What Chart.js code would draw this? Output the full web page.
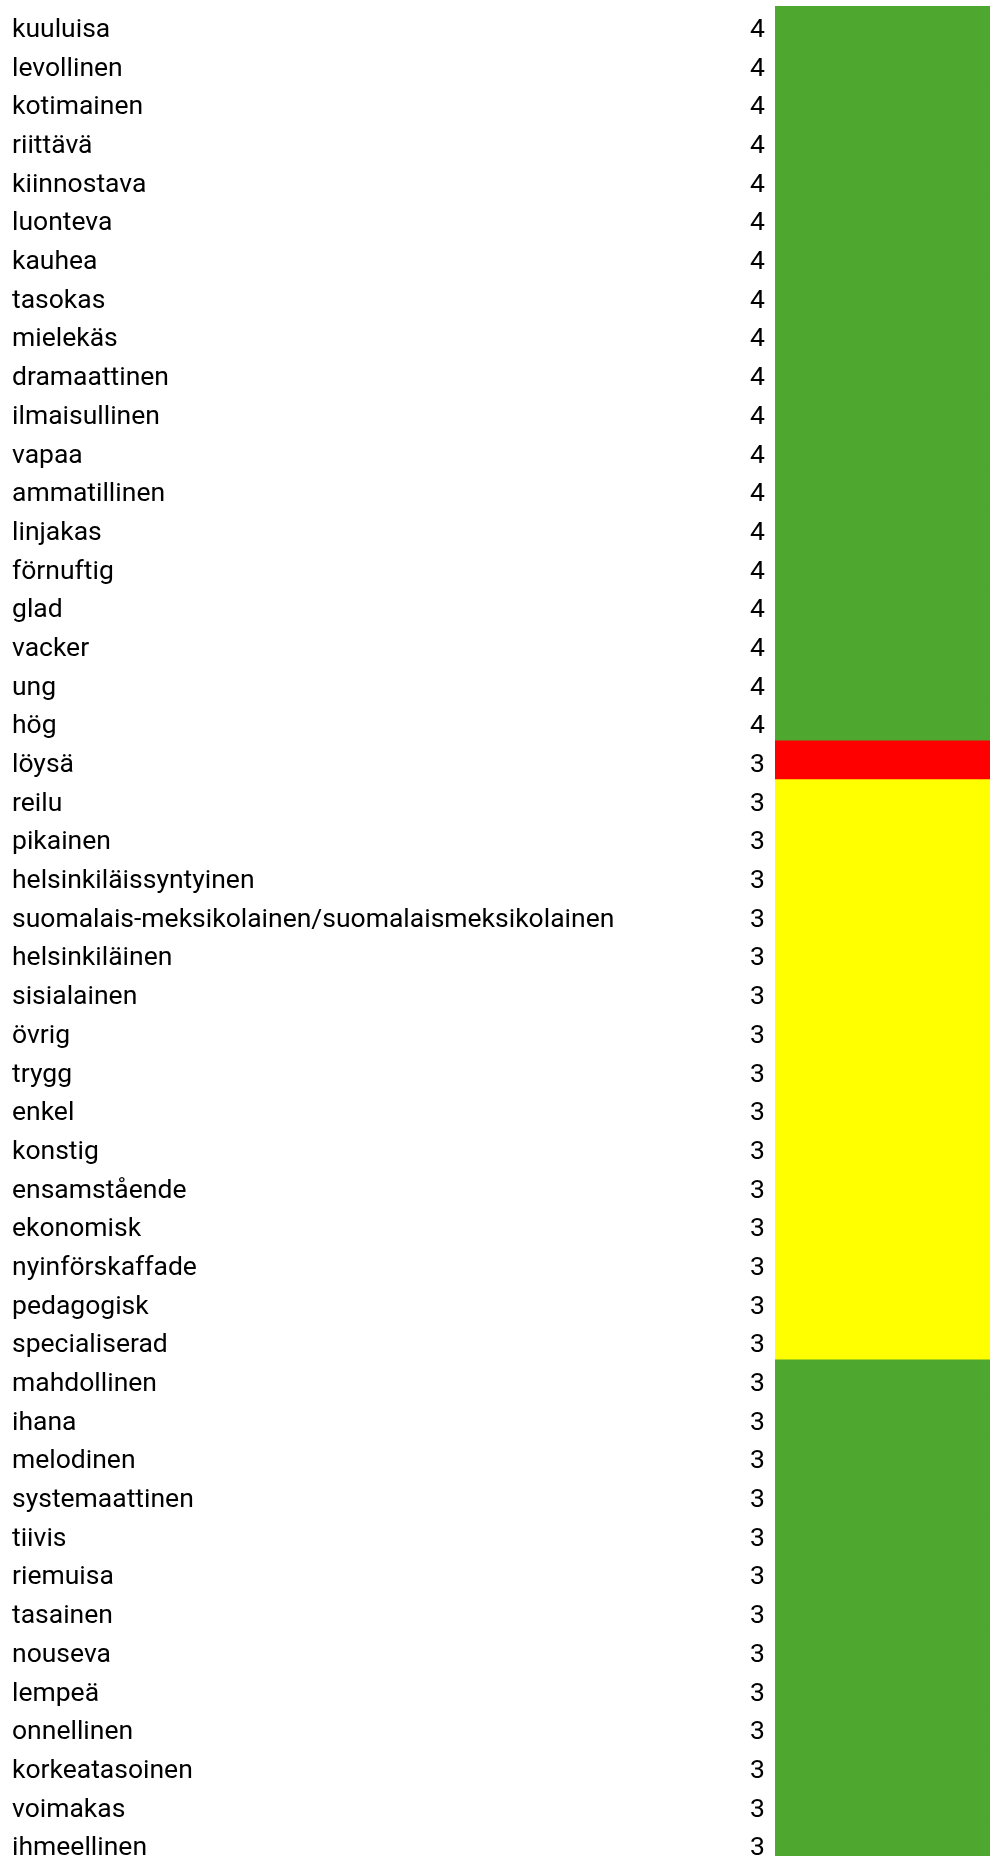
<!DOCTYPE html>
<html>
<head>
<meta charset="utf-8">
<script src="https://cdn.jsdelivr.net/npm/chart.js@4"></script>
<style>
  html, body { margin: 0; padding: 0; background: #fff; overflow: hidden; }
</style>
</head>
<body>
<canvas id="wordChart" width="990" height="1863"></canvas>
<script>
// words in sheet order
const words = [
    'kuuluisa', 'levollinen', 'kotimainen', 'riittävä', 'kiinnostava', 'luonteva',
    'kauhea', 'tasokas', 'mielekäs', 'dramaattinen', 'ilmaisullinen', 'vapaa',
    'ammatillinen', 'linjakas', 'förnuftig', 'glad', 'vacker', 'ung', 'hög',
    'löysä', 'reilu', 'pikainen', 'helsinkiläissyntyinen',
    'suomalais-meksikolainen/suomalaismeksikolainen', 'helsinkiläinen', 'sisialainen',
    'övrig', 'trygg', 'enkel', 'konstig', 'ensamstående', 'ekonomisk',
    'nyinförskaffade', 'pedagogisk', 'specialiserad', 'mahdollinen', 'ihana',
    'melodinen', 'systemaattinen', 'tiivis', 'riemuisa', 'tasainen', 'nouseva',
    'lempeä', 'onnellinen', 'korkeatasoinen', 'voimakas', 'ihmeellinen'
]

const scores = [
    4, 4, 4, 4, 4, 4, 4, 4, 4, 4, 4, 4, 4, 4, 4, 4, 4, 4, 4,
    3, 3, 3, 3, 3, 3, 3, 3, 3, 3, 3, 3, 3, 3, 3, 3,
    3, 3, 3, 3, 3, 3, 3, 3, 3, 3, 3, 3, 3
]

// cell category: g = green, r = red, y = yellow
const cellGroup = [
    'g', 'g', 'g', 'g', 'g', 'g', 'g', 'g', 'g', 'g', 'g', 'g', 'g', 'g', 'g', 'g', 'g', 'g', 'g',
    'r', 'y', 'y', 'y', 'y', 'y', 'y', 'y', 'y', 'y', 'y', 'y', 'y', 'y', 'y', 'y',
    'g', 'g', 'g', 'g', 'g', 'g', 'g', 'g', 'g', 'g', 'g', 'g', 'g'
]

// every cell is filled across the whole column
const cellFill = [
    1, 1, 1, 1, 1, 1, 1, 1, 1, 1, 1, 1, 1, 1, 1, 1, 1, 1, 1,
    1, 1, 1, 1, 1, 1, 1, 1, 1, 1, 1, 1, 1, 1, 1, 1,
    1, 1, 1, 1, 1, 1, 1, 1, 1, 1, 1, 1, 1
]

const groupColors = { g: '#4EA72E', r: '#FF0000', y: '#FFFF00' }
const fontFamily = 'Roboto, sans-serif'
const fontSize = 26.5
const textDrop = 5 // cell text sits low in the row

// draws the score column next to the colored cells
const scoreColumn = {
    id: 'scoreColumn',
    afterDraw(chart) {
        const ctx = chart.ctx
        const yScale = chart.scales.y
        ctx.save()
        ctx.font = fontSize + 'px ' + fontFamily
        ctx.fillStyle = '#000'
        ctx.textAlign = 'right'
        ctx.textBaseline = 'middle'
        scores.forEach((s, i) => {
            ctx.fillText(String(s), chart.chartArea.left - 10, yScale.getPixelForValue(i) + textDrop)
        })
        ctx.restore()
    }
}

const config = {
    type: 'bar',
    data: {
        labels: words,
        datasets: [{
            data: cellFill,
            backgroundColor: cellGroup.map(g => groupColors[g]),
            borderWidth: 0,
            inflateAmount: 0.6,
            barPercentage: 1,
            categoryPercentage: 1
        }]
    },
    options: {
        indexAxis: 'y',
        responsive: false,
        animation: false,
        layout: { padding: { top: 6, left: 12, right: 0, bottom: 0 } },
        plugins: {
            legend: { display: false },
            tooltip: { enabled: false }
        },
        scales: {
            x: { display: false, min: 0, max: 1 },
            y: {
                grid: { display: false },
                border: { display: false },
                afterFit: function(scale) {
                    scale.width = 763
                    scale.paddingTop = 0
                    scale.paddingBottom = 0
                },
                ticks: {
                    autoSkip: false,
                    crossAlign: 'far',
                    labelOffset: textDrop,
                    color: '#000',
                    font: { family: fontFamily, size: fontSize }
                }
            }
        }
    },
    plugins: [scoreColumn]
}

new Chart(document.getElementById('wordChart'), config)
</script>
</body>
</html>
